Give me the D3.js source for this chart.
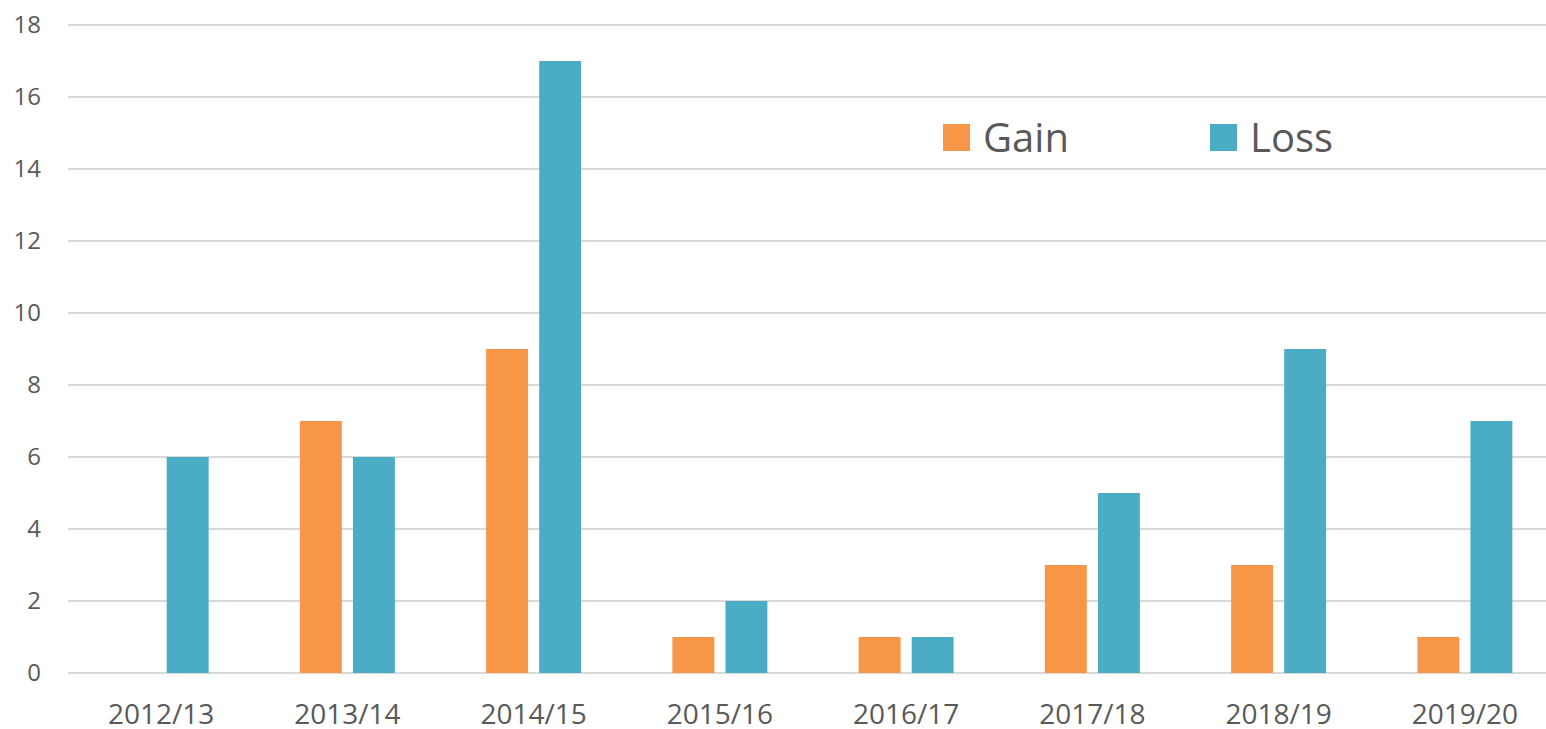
<!DOCTYPE html>
<html lang="en">
  <head>
    <meta charset="utf-8">
    <title>Gain and Loss by season</title>
    <script src="https://cdn.jsdelivr.net/npm/d3@7"></script>
    <style>
      body { margin: 0; background: #fff; }
      svg { display: block; font-family: "Open Sans", sans-serif; }
      .tick-y { font-size: 24px; fill: #595959; }
      .tick-x { font-size: 28px; fill: #595959; }
      .legend-text { font-size: 40px; fill: #595959; }
    </style>
  </head>
  <body>
    <div id="chart"></div>
    <script>
      // data
      var seasons = ["2012/13","2013/14","2014/15","2015/16","2016/17","2017/18","2018/19","2019/20"]
      var gain = [0, 7, 9, 1, 1, 3, 3, 1]
      var loss = [6, 6, 17, 2, 1, 5, 9, 7]
      var seriesNames = ["Gain", "Loss"]
      var seriesColors = ["#F79646", "#4BACC6"]
      var yTicks = [0, 2, 4, 6, 8, 10, 12, 14, 16, 18]

      var W = 1546, H = 729
      var plotLeft = 68, plotRight = 1558, plotTop = 25, plotBottom = 673

      var svg = d3.select("#chart").append("svg")
        .attr("width", W)
        .attr("height", H)

      var x0 = d3.scaleBand()
        .domain(seasons)
        .range([plotLeft, plotRight])
        .paddingInner(0.49)
        .paddingOuter(0.245)

      var x1 = d3.scaleBand()
        .domain(seriesNames)
        .range([0, x0.bandwidth()])
        .paddingInner(0.21)

      var y = d3.scaleLinear().domain([0, 18]).range([plotBottom, plotTop])

      // gridlines
      svg.append("g").selectAll("line")
        .data(yTicks)
        .join("line")
        .attr("x1", plotLeft)
        .attr("x2", W)
        .attr("y1", d => y(d))
        .attr("y2", d => y(d))
        .attr("stroke", "#d9d9d9")
        .attr("stroke-width", 2)

      // y labels
      svg.append("g").selectAll("text")
        .data(yTicks)
        .join("text")
        .attr("class", "tick-y")
        .attr("x", 41)
        .attr("y", d => y(d))
        .attr("dy", "0.35em")
        .attr("text-anchor", "end")
        .text(d => d)

      // x labels
      svg.append("g").selectAll("text")
        .data(seasons)
        .join("text")
        .attr("class", "tick-x")
        .attr("x", d => x0(d) + x0.bandwidth() / 2)
        .attr("y", 714)
        .attr("dy", "0.35em")
        .attr("text-anchor", "middle")
        .text(d => d)

      // bars
      var rows = seasons.map((s, i) => ({ season: s, values: [gain[i], loss[i]] }))
      var groups = svg.append("g").selectAll("g")
        .data(rows)
        .join("g")
        .attr("transform", d => "translate(" + x0(d.season) + ",0)")

      groups.selectAll("rect")
        .data(d => d.values.map((v, k) => ({ key: seriesNames[k], value: v, color: seriesColors[k] })))
        .join("rect")
        .filter(d => d.value > 0)
        .attr("x", d => x1(d.key))
        .attr("width", x1.bandwidth())
        .attr("y", d => y(d.value))
        .attr("height", d => y(0) - y(d.value))
        .attr("fill", d => d.color)

      // legend
      var legendX = [943, 1210]
      var legend = svg.append("g").selectAll("g")
        .data(seriesNames)
        .join("g")
        .attr("transform", (d, i) => "translate(" + legendX[i] + ",124)")

      legend.append("rect")
        .attr("width", 27)
        .attr("height", 27)
        .attr("fill", (d, i) => seriesColors[i])

      legend.append("text")
        .attr("class", "legend-text")
        .attr("x", 40)
        .attr("y", 14)
        .attr("dy", "0.35em")
        .text(d => d)
    </script>
  </body>
</html>
